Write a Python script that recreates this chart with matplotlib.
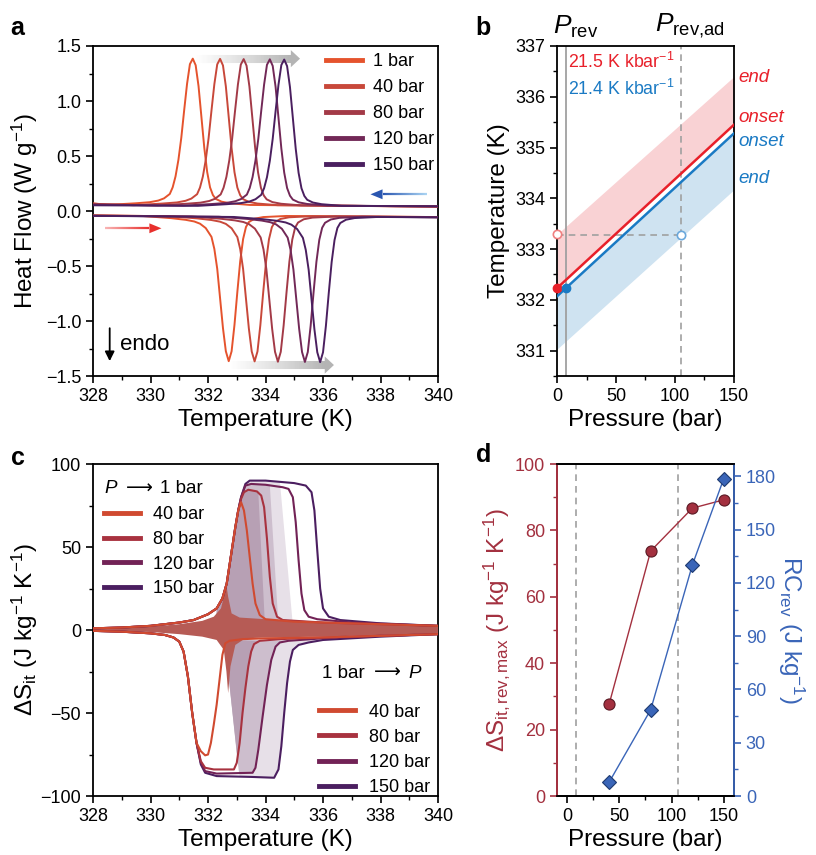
import numpy as np
import matplotlib
matplotlib.use("Agg")
import matplotlib.pyplot as plt
from matplotlib.collections import LineCollection
from matplotlib.patches import Polygon
from matplotlib.lines import Line2D
from matplotlib.ticker import MultipleLocator
import matplotlib.colors as mcolors

plt.rcParams['font.family'] = ['Liberation Sans', 'DejaVu Sans']
plt.rcParams['mathtext.fontset'] = 'custom'
plt.rcParams['mathtext.rm'] = 'Liberation Sans'
plt.rcParams['mathtext.it'] = 'Liberation Sans:italic'
plt.rcParams['mathtext.bf'] = 'Liberation Sans:bold'
plt.rcParams['axes.linewidth'] = 1.3
plt.rcParams['xtick.major.width'] = 1.2
plt.rcParams['ytick.major.width'] = 1.2
plt.rcParams['xtick.minor.width'] = 1.0
plt.rcParams['ytick.minor.width'] = 1.0
plt.rcParams['xtick.major.size'] = 5
plt.rcParams['ytick.major.size'] = 5
plt.rcParams['xtick.minor.size'] = 3
plt.rcParams['ytick.minor.size'] = 3
plt.rcParams['xtick.labelsize'] = 13
plt.rcParams['ytick.labelsize'] = 13
plt.rcParams['axes.labelsize'] = 17.5

# ---------------- panel a: DSC heat flow ----------------
labels_a = ["1 bar", "40 bar", "80 bar", "120 bar", "150 bar"]
colors_a = ["#e5532d", "#c8483a", "#a33a47", "#722857", "#4a1f5f"]
cool_peak_T = [331.47, 332.42, 333.24, 334.15, 334.65]
heat_peak_T = [332.72, 333.62, 334.43, 335.37, 335.90]
cool_base = [0.055, 0.053, 0.051, 0.049, 0.047]
heat_base = [-0.045, -0.047, -0.050, -0.052, -0.054]
cool_left = [0.070, 0.066, 0.062, 0.058, 0.052]
cool_right = [0.040, 0.040, 0.041, 0.042, 0.043]
heat_left = [-0.040, -0.041, -0.042, -0.043, -0.044]
heat_right = [-0.055, -0.055, -0.056, -0.057, -0.058]
# peak profile (offset from peak, signal above baseline)
cool_dx = [-3.0, -2.0, -1.5, -1.2, -1.0, -0.8, -0.7, -0.6, -0.5, -0.4, -0.3, -0.2, -0.1,
           0.0, 0.1, 0.2, 0.3, 0.4, 0.5, 0.6, 0.7, 0.8, 1.0, 1.3, 2.0]
cool_dy = [0.0, 0.015, 0.025, 0.04, 0.06, 0.1, 0.16, 0.26, 0.41, 0.61, 0.86, 1.10, 1.28,
           1.33, 1.27, 1.08, 0.80, 0.52, 0.30, 0.16, 0.09, 0.055, 0.03, 0.015, 0.0]
heat_dx = [-3.0, -2.0, -1.5, -1.2, -1.0, -0.8, -0.6, -0.5, -0.4, -0.3, -0.2, -0.1,
           0.0, 0.1, 0.2, 0.3, 0.4, 0.5, 0.6, 0.7, 0.9, 1.2, 2.0]
heat_dy = [0.0, -0.02, -0.035, -0.05, -0.07, -0.11, -0.19, -0.30, -0.48, -0.75, -1.02, -1.23,
           -1.32, -1.23, -0.99, -0.69, -0.41, -0.21, -0.10, -0.055, -0.025, -0.01, 0.0]

# ---------------- panel b: phase diagram ----------------
p_line = [0, 150]
onset_heat = [332.23, 335.45]
end_heat = [333.29, 336.40]
onset_cool = [332.07, 335.28]
end_cool = [331.03, 334.17]
p_rev = 8
p_rev_ad = 105
t_rev_ad = 333.27

# ---------------- panel c: isothermal entropy change ----------------
labels_c = ["40 bar", "80 bar", "120 bar", "150 bar"]
colors_c = ["#d04a30", "#a8323f", "#722256", "#4b1e60"]
up_T0 = [328, 329, 330, 331, 331.5, 332, 332.3, 332.5, 332.65, 332.8, 332.95, 333.05]
up_S0 = [1, 1.5, 2.5, 4.5, 6, 9.5, 13, 19, 28, 45, 62, 72]
up40_T = [333.15, 333.25, 333.35, 333.45, 333.55, 333.65, 333.8, 334.0, 335, 337, 340]
up40_S = [77, 72, 60, 44, 28, 16, 9, 6.5, 5, 4, 2.5]
up80_T = [333.15, 333.25, 333.4, 333.7, 333.85, 333.95, 334.05, 334.15, 334.25, 334.4, 334.6, 336, 338, 340]
up80_S = [79, 83, 84.5, 83.5, 81, 74, 55, 32, 16, 8, 6, 4.5, 3.5, 2.5]
up120_T = [333.15, 333.3, 333.5, 334.0, 334.6, 334.8, 334.95, 335.05, 335.15, 335.25, 335.35, 335.5, 335.8, 337, 340]
up120_S = [80, 87, 88, 87.5, 86, 85, 80, 65, 42, 22, 12, 8, 6.5, 4.5, 2.5]
up150_T = [333.15, 333.3, 333.45, 334.0, 335.0, 335.4, 335.6, 335.7, 335.8, 335.9, 336.0, 336.2, 336.6, 338, 340]
up150_S = [80, 88, 90, 90, 88.5, 87, 83, 72, 48, 25, 13, 8, 6, 4, 2.5]

lo_T0 = [328, 329, 330, 330.5, 330.8, 331.0, 331.15, 331.3, 331.45, 331.6]
lo_S0 = [-0.5, -1, -2, -3, -4.5, -7, -13, -28, -50, -68]
lo40_T = [331.75, 331.9, 332.0, 332.1, 332.2, 332.3, 332.4, 332.5, 332.6, 332.75, 333.2, 334, 336, 338, 340]
lo40_S = [-73, -75.5, -75, -68, -57, -45, -30, -15, -8, -6.5, -5.5, -5, -4.5, -3.5, -2.5]
lo80_T = [331.75, 331.9, 332.2, 332.9, 333.0, 333.1, 333.2, 333.3, 333.4, 333.5, 333.6, 333.8, 334.5, 336, 338, 340]
lo80_S = [-79, -83, -84, -84, -80, -68, -50, -35, -22, -13, -8.5, -6.5, -5.5, -4.5, -3.5, -2.5]
lo120_T = [331.75, 331.9, 332.3, 333.55, 333.65, 333.75, 333.9, 334.05, 334.2, 334.35, 334.5, 334.8, 336, 338, 340]
lo120_S = [-80, -85, -86.5, -86, -83, -72, -52, -33, -18, -10, -7.5, -6.5, -5, -3.5, -2.5]
lo150_T = [331.75, 331.9, 332.3, 333.5, 334.3, 334.45, 334.55, 334.65, 334.75, 334.85, 334.95, 335.15, 335.5, 336, 338, 340]
lo150_S = [-81, -86, -88, -88.5, -89, -84, -70, -50, -32, -19, -12, -9, -7.5, -6, -4, -2.5]

# reversible region outlines
star_top_T = [328, 330, 331, 331.8, 332.2, 332.45, 332.58, 332.64, 332.7, 332.82, 333.1, 334, 336, 338, 340]
star_top_S = [0.8, 2, 3.5, 5.5, 8, 13, 22, 27, 20, 10, 7.5, 6.5, 5, 4, 3]
star_bot_T = [328, 330, 331, 331.8, 332.3, 332.55, 332.64, 332.7, 332.78, 332.95, 333.3, 334, 336, 338, 340]
star_bot_S = [-0.5, -1.2, -2.5, -4, -6, -12, -25, -38, -22, -9, -5, -4.5, -4, -3, -2]
fill_colors = ["#b65b55", "#b7a0b4", "#cdbecd", "#e7e0e8"]
up_fill_edge = [None, (333.75, 333.98), (334.15, 334.45), (334.5, 334.95)]
lo_fill_diag = [None, 333.02, 333.08, 333.10]

# ---------------- panel d ----------------
p_d = [40, 80, 120, 150]
ds_max = [27.6, 73.8, 86.7, 89.2]
rc_rev = [7.7, 48.6, 130.1, 178.5]
p_dash = [8, 106]

RED = "#e8202a"
BLUE = "#1a7ac4"
MAROON = "#a3303f"
RBLUE = "#3a65b8"

fig = plt.figure(figsize=(8.16, 8.55), dpi=100)
ax_a = fig.add_axes([0.1140, 0.5602, 0.4228, 0.3860])
ax_b = fig.add_axes([0.6826, 0.5602, 0.2169, 0.3860])
ax_c = fig.add_axes([0.1140, 0.0690, 0.4228, 0.3883])
ax_d = fig.add_axes([0.6826, 0.0690, 0.2169, 0.3883])


def grad_arrow(ax, x0, x1, y, c0, c1, lw, head_len, head_h, z=1, n=80):
    c0 = np.array(mcolors.to_rgba(c0[0], c0[1]))
    c1 = np.array(mcolors.to_rgba(c1[0], c1[1]))
    d = np.sign(x1 - x0)
    xb = x1 - d * head_len
    xs = np.linspace(x0, xb, n + 1)
    segs = [[(xs[i], y), (xs[i + 1], y)] for i in range(n)]
    cols = [c0 + (c1 - c0) * i / (n - 1) for i in range(n)]
    ax.add_collection(LineCollection(segs, colors=cols, linewidths=lw,
                                     capstyle='butt', zorder=z))
    ax.add_patch(Polygon([(xb, y - head_h), (x1, y), (xb, y + head_h)],
                         closed=True, facecolor=c1, edgecolor='none', zorder=z))


# ---- a ----
ax = ax_a
grad_arrow(ax, 331.55, 335.2, 1.385, ("#c8c8c8", 0.0), ("#b4b4b4", 1.0), 5.8, 0.32, 0.078)
grad_arrow(ax, 332.75, 336.38, -1.40, ("#c8c8c8", 0.0), ("#b4b4b4", 1.0), 5.8, 0.32, 0.078)
for i in range(5):
    xc = [328] + [cool_peak_T[i] + d for d in cool_dx] + [340]
    yc = [cool_left[i]] + [cool_base[i] + v for v in cool_dy] + [cool_right[i]]
    xh = [328] + [heat_peak_T[i] + d for d in heat_dx] + [340]
    yh = [heat_left[i]] + [heat_base[i] + v for v in heat_dy] + [heat_right[i]]
    ax.plot(xc, yc, color=colors_a[i], lw=1.4, zorder=3)
    ax.plot(xh, yh, color=colors_a[i], lw=1.4, zorder=3)
grad_arrow(ax, 339.6, 337.65, 0.152, ("#a9d3f2", 1.0), ("#2a56b0", 1.0), 1.6, 0.42, 0.045, z=4)
grad_arrow(ax, 328.42, 330.38, -0.157, ("#f8b4b4", 1.0), ("#e8302d", 1.0), 1.6, 0.42, 0.045, z=4)
ax.annotate("", xy=(328.58, -1.39), xytext=(328.58, -1.04),
            arrowprops=dict(arrowstyle="-|>", color="black", lw=1.3, mutation_scale=14))
ax.text(328.95, -1.21, "endo", fontsize=16, va='center', ha='left')
ax.set_xlim(328, 340)
ax.set_ylim(-1.5, 1.5)
ax.xaxis.set_major_locator(MultipleLocator(2))
ax.xaxis.set_minor_locator(MultipleLocator(1))
ax.yaxis.set_major_locator(MultipleLocator(0.5))
ax.yaxis.set_minor_locator(MultipleLocator(0.25))
ax.set_xlabel("Temperature (K)", labelpad=3)
ax.set_ylabel("Heat Flow (W g$^{-1}$)", labelpad=4)
handles = [Line2D([], [], color=c, lw=3.5) for c in colors_a]
ax.legend(handles, labels_a, loc='upper left', bbox_to_anchor=(0.655, 1.0), frameon=False,
          handlelength=2.0, handletextpad=0.6, labelspacing=0.5, fontsize=13,
          borderaxespad=0.2, borderpad=0.2)

# ---- b ----
ax = ax_b
ax.fill_between(p_line, onset_heat, end_heat, color="#f9d2d4", lw=0, zorder=1)
ax.fill_between(p_line, onset_cool, end_cool, color="#cfe3f1", lw=0, zorder=1)
ax.axvline(p_rev, color="#a0a0a0", lw=1.3, zorder=2)
ax.axvline(p_rev_ad, color="#a0a0a0", lw=1.2, ls=(0, (4, 3)), zorder=2)
ax.plot([0, p_rev_ad], [t_rev_ad, t_rev_ad], color="#a0a0a0", lw=1.2, ls=(0, (4, 3)), zorder=2)
ax.plot(p_line, onset_heat, color=RED, lw=1.8, zorder=3)
ax.plot(p_line, onset_cool, color=BLUE, lw=1.8, zorder=3)
ax.plot([0], [onset_heat[0]], 'o', color=RED, ms=6, clip_on=False, zorder=5)
ax.plot([p_rev], [onset_cool[0] + (onset_cool[1] - onset_cool[0]) * p_rev / 150], 'o',
        color=BLUE, ms=6, clip_on=False, zorder=5)
ax.plot([0], [end_heat[0]], 'o', mfc='white', mec="#f08080", mew=1.2, ms=6, clip_on=False, zorder=5)
ax.plot([p_rev_ad], [t_rev_ad], 'o', mfc='white', mec="#6aa8dc", mew=1.2, ms=6, clip_on=False, zorder=5)
ax.text(9, 336.68, "21.5 K kbar$^{-1}$", color=RED, fontsize=12.8, va='center')
ax.text(9, 336.15, "21.4 K kbar$^{-1}$", color=BLUE, fontsize=12.8, va='center')
ax.text(154, 336.37, "end", color=RED, fontsize=13.5, style='italic', va='center', clip_on=False)
ax.text(154, 335.6, "onset", color=RED, fontsize=13.5, style='italic', va='center', clip_on=False)
ax.text(154, 335.12, "onset", color=BLUE, fontsize=13.5, style='italic', va='center', clip_on=False)
ax.text(154, 334.4, "end", color=BLUE, fontsize=13.5, style='italic', va='center', clip_on=False)
ax.text(-3, 337.12, r"$P_{\rm rev}$", fontsize=19, va='bottom', ha='left')
ax.text(83, 337.12, r"$P_{\rm rev{,}ad}$", fontsize=19, va='bottom', ha='left')
ax.set_xlim(0, 150)
ax.set_ylim(330.5, 337)
ax.xaxis.set_major_locator(MultipleLocator(50))
ax.xaxis.set_minor_locator(MultipleLocator(25))
ax.yaxis.set_major_locator(MultipleLocator(1))
ax.yaxis.set_minor_locator(MultipleLocator(0.5))
ax.set_xlabel("Pressure (bar)", labelpad=3)
ax.set_ylabel("Temperature (K)", labelpad=4)

# ---- c ----
ax = ax_c
ups = [(up_T0 + up40_T, up_S0 + up40_S), (up_T0 + up80_T, up_S0 + up80_S),
       (up_T0 + up120_T, up_S0 + up120_S), (up_T0 + up150_T, up_S0 + up150_S)]
los = [(lo_T0 + lo40_T, lo_S0 + lo40_S), (lo_T0 + lo80_T, lo_S0 + lo80_S),
       (lo_T0 + lo120_T, lo_S0 + lo120_S), (lo_T0 + lo150_T, lo_S0 + lo150_S)]
for k in [3, 2, 1]:
    T, S = np.array(ups[k][0]), np.array(ups[k][1])
    t_top, t_bot = up_fill_edge[k]
    keep = (T >= 332.3) & (T <= t_top)
    xs = list(T[keep]) + [t_top, t_bot, 332.3]
    ys = list(S[keep]) + [np.interp(t_top, T, S), 3, 3]
    ax.fill(xs, ys, color=fill_colors[k], lw=0, zorder=1 + (3 - k))
    T, S = np.array(los[k][0]), np.array(los[k][1])
    td = lo_fill_diag[k]
    after = np.where((T > td) & (S >= -6.5))[0][0]
    keep = (T > td) & (np.arange(len(T)) <= after)
    xs = [332.58, td] + list(T[keep])
    ys = [-6, np.interp(td, T, S)] + list(S[keep])
    ax.fill(xs, ys, color=fill_colors[k], lw=0, zorder=1 + (3 - k))
ax.fill(star_top_T + star_bot_T[::-1], star_top_S + star_bot_S[::-1],
        color=fill_colors[0], lw=0, zorder=5)
for k in [3, 2, 1, 0]:
    ax.plot(ups[k][0], ups[k][1], color=colors_c[k], lw=1.5, zorder=6 + (3 - k))
    ax.plot(los[k][0], los[k][1], color=colors_c[k], lw=1.5, zorder=6 + (3 - k))
ax.set_xlim(328, 340)
ax.set_ylim(-100, 100)
ax.xaxis.set_major_locator(MultipleLocator(2))
ax.xaxis.set_minor_locator(MultipleLocator(1))
ax.yaxis.set_major_locator(MultipleLocator(50))
ax.yaxis.set_minor_locator(MultipleLocator(25))
ax.set_xlabel("Temperature (K)", labelpad=3)
ax.set_ylabel("ΔS$_{\\rm it}$ (J kg$^{-1}$ K$^{-1}$)", labelpad=0)
handles = [Line2D([], [], color=c, lw=3.5) for c in colors_c]
leg1 = ax.legend(handles, labels_c, loc='upper left', bbox_to_anchor=(0.02, 0.884), frameon=False,
                 handlelength=2.0, handletextpad=0.75, labelspacing=0.43, fontsize=13,
                 borderaxespad=0, borderpad=0.2)
ax.add_artist(leg1)
ax.legend(handles, labels_c, loc='upper left', bbox_to_anchor=(0.645, 0.289), frameon=False,
          handlelength=2.0, handletextpad=0.75, labelspacing=0.45, fontsize=13,
          borderaxespad=0, borderpad=0.2)
ax.text(0.033, 0.925, "P", style='italic', fontsize=13.5, transform=ax.transAxes, va='center')
ax.text(0.095, 0.925, "⟶", fontsize=13.5, transform=ax.transAxes, va='center')
ax.text(0.195, 0.925, "1 bar", fontsize=13.5, transform=ax.transAxes, va='center')
ax.text(0.665, 0.369, "1 bar", fontsize=13.5, transform=ax.transAxes, va='center')
ax.text(0.815, 0.369, "⟶", fontsize=13.5, transform=ax.transAxes, va='center')
ax.text(0.915, 0.369, "P", style='italic', fontsize=13.5, transform=ax.transAxes, va='center')

# ---- d ----
ax = ax_d
for p in p_dash:
    ax.axvline(p, color="#a0a0a0", lw=1.2, ls=(0, (4, 3)), zorder=1)
ax.plot(p_d, ds_max, '-o', color=MAROON, lw=1.0, ms=8, mfc=MAROON, mec="#5a1a24", mew=0.8, zorder=3)
ax.set_xlim(-10, 160)
ax.set_ylim(0, 100)
ax.xaxis.set_major_locator(MultipleLocator(50))
ax.xaxis.set_minor_locator(MultipleLocator(25))
ax.yaxis.set_major_locator(MultipleLocator(20))
ax.yaxis.set_minor_locator(MultipleLocator(10))
ax.set_xlabel("Pressure (bar)", labelpad=3)
ax.set_ylabel("ΔS$_{\\rm it,rev,max}$ (J kg$^{-1}$ K$^{-1}$)", color=MAROON, labelpad=2)
ax.tick_params(axis='y', which='both', colors=MAROON)
ax.spines['left'].set_color(MAROON)
axr = ax.twinx()
axr.plot(p_d, rc_rev, '-D', color=RBLUE, lw=1.0, ms=7, mfc=RBLUE, mec="#1e3a70", mew=0.8,
         zorder=3, clip_on=False)
axr.set_ylim(0, 187)
axr.yaxis.set_major_locator(MultipleLocator(30))
axr.yaxis.set_minor_locator(MultipleLocator(15))
axr.tick_params(axis='y', which='both', colors=RBLUE)
axr.spines['right'].set_color(RBLUE)
axr.spines['left'].set_color(MAROON)
axr.set_ylabel("RC$_{\\rm rev}$ (J kg$^{-1}$)", color=RBLUE, rotation=270, labelpad=22)

for a in [ax_a, ax_b, ax_c, ax_d]:
    a.tick_params(which='both', direction='out', top=False, right=False)
axr.tick_params(which='both', direction='out')

fig.text(0.013, 0.981, "a", fontsize=18, weight='bold', va='top')
fig.text(0.583, 0.981, "b", fontsize=18, weight='bold', va='top')
fig.text(0.013, 0.478, "c", fontsize=18, weight='bold', va='top')
fig.text(0.583, 0.482, "d", fontsize=18, weight='bold', va='top')

fig.savefig("out.png", dpi=100)
